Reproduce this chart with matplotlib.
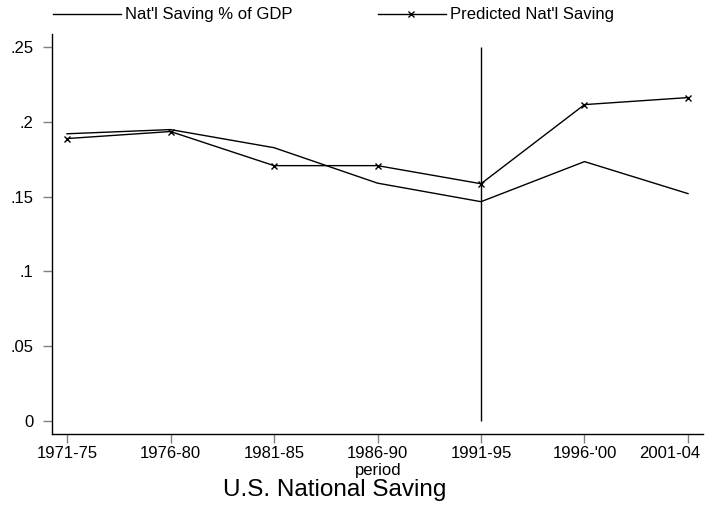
import numpy as np
import matplotlib.pyplot as plt
from matplotlib.lines import Line2D
from matplotlib.transforms import ScaledTranslation

plt.rcParams['font.family'] = ['Liberation Sans', 'DejaVu Sans']

# periods on the x axis
periods = ["1971-75", "1976-80", "1981-85", "1986-90", "1991-95", "1996-'00", "2001-04"]
# national saving as share of GDP
saving = [0.192, 0.1948, 0.1827, 0.159, 0.1466, 0.1734, 0.152]
# predicted national saving
predicted = [0.1888, 0.1935, 0.1707, 0.1707, 0.1586, 0.2115, 0.2162]
ytick_vals = [0, 0.05, 0.1, 0.15, 0.2, 0.25]
ytick_labels = ["0", ".05", ".1", ".15", ".2", ".25"]
legend_labels = ["Nat'l Saving % of GDP", "Predicted Nat'l Saving"]
# vertical marker line at 1991-95
vline_period = 4
vline_range = [0, 0.25]

W, H = 706, 507
fig = plt.figure(figsize=(W / 100, H / 100), dpi=100)
ax = fig.add_axes([52 / W, 1 - 434 / H, 651 / W, 400 / H])

x = np.arange(len(periods))
ax.plot(x, saving, color='black', lw=1)
ax.plot(x, predicted, color='black', lw=1, marker='x', ms=5, mew=1)
ax.vlines(vline_period, vline_range[0], vline_range[1], color='black', lw=1)

ax.set_xlim(-0.145, 6.145)
ax.set_ylim(-0.0087, 0.2587)
ax.set_xticks(x)
ax.set_xticklabels(periods, fontsize=12)
ax.set_yticks(ytick_vals)
ax.set_yticklabels(ytick_labels, fontsize=12)
ax.tick_params(axis='both', direction='out', length=6.3, width=1, color='#808080')
ax.tick_params(axis='x', pad=2.5)
ax.tick_params(axis='y', pad=7)

# the last label is pushed left so it stays inside the figure
last = ax.get_xticklabels()[-1]
last.set_transform(last.get_transform() + ScaledTranslation(-0.18, 0, fig.dpi_scale_trans))

ax.spines['top'].set_visible(False)
ax.spines['right'].set_visible(False)
ax.spines['left'].set_linewidth(1)
ax.spines['bottom'].set_linewidth(1)

# axis label under 1986-90, title below it
fig.text(378 / W, 1 - 470 / H, "period", ha='center', va='center', fontsize=12)
fig.text(335 / W, 1 - 490 / H, "U.S. National Saving", ha='center', va='center', fontsize=17.5)

# legend above the plot, drawn by hand
ly = 1 - 14 / H
fig.add_artist(Line2D([53 / W, 121 / W], [ly, ly], color='black', lw=1,
                      transform=fig.transFigure))
fig.text(125 / W, ly, legend_labels[0], ha='left', va='center', fontsize=12)
fig.add_artist(Line2D([378 / W, 446 / W], [ly, ly], color='black', lw=1,
                      transform=fig.transFigure))
fig.add_artist(Line2D([411 / W], [ly], color='black', marker='x', ms=4, mew=1,
                      transform=fig.transFigure))
fig.text(450 / W, ly, legend_labels[1], ha='left', va='center', fontsize=12)

fig.savefig('out.png', dpi=100)
